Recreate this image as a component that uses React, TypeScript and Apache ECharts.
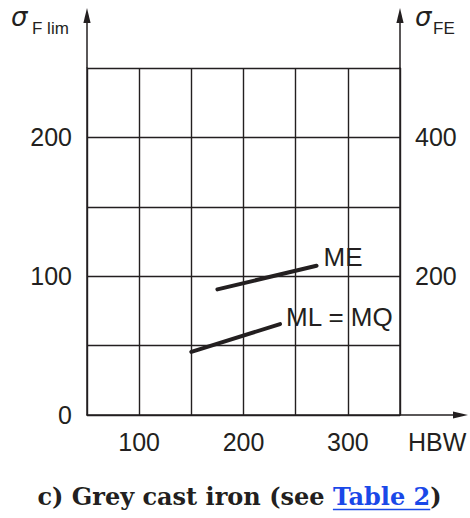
import React, { useEffect, useRef } from "react";
import * as echarts from "echarts";

// Hardness axis (HBW) and stress axes
const hbwTicks = [50, 100, 150, 200, 250, 300, 350];
const hbwLabels = [100, 200, 300];
const sigmaFlimLabels = [0, 100, 200];
const sigmaFELabels = [200, 400];

// Material quality lines: [HBW, σF lim]
const seriesNames = ["ME", "ML = MQ"];
const meLine = [
  [175, 90.5],
  [270, 107.5],
];
const mlMqLine = [
  [150, 45.5],
  [235, 65.5],
];

const W = 470;
const H = 518;
const GRID = { left: 87, top: 68, right: 70, bottom: 103 };
const INK = "#231f20";
const SANS = '"Liberation Sans", Arial, sans-serif';
const SERIF = '"DejaVu Serif", serif';
const LINK = "#1a48e8";
const CAP_SIZE = 24;

function measure(font: string, text: string): number {
  const c = document.createElement("canvas");
  const ctx = c.getContext("2d")!;
  ctx.font = font;
  return ctx.measureText(text).width;
}

export default function App() {
  const ref = useRef<HTMLDivElement>(null);

  useEffect(() => {
    if (!ref.current) return;
    const chart = echarts.init(ref.current, undefined, { renderer: "svg" });

    const gx0 = GRID.left;
    const gx1 = W - GRID.right;
    const gy0 = GRID.top;
    const gy1 = H - GRID.bottom;

    // axis extensions with arrow heads
    const arrowTopY = 8;
    const arrowRightX = 468;
    const aLen = 15;
    const aHalf = 3.6;
    const axisExt = (x: number) => [
      {
        type: "line",
        shape: { x1: x, y1: gy0, x2: x, y2: arrowTopY + aLen - 1 },
        style: { stroke: INK, lineWidth: 1.5 },
      },
      {
        type: "polygon",
        shape: {
          points: [
            [x, arrowTopY],
            [x - aHalf, arrowTopY + aLen],
            [x + aHalf, arrowTopY + aLen],
          ],
        },
        style: { fill: INK },
      },
    ];

    // caption
    const capFont = `bold ${CAP_SIZE}px ${SERIF}`;
    const capA = "c) Grey cast iron (see ";
    const capB = "Table 2";
    const capC = ")";
    const wA = measure(capFont, capA);
    const wB = measure(capFont, capB);
    const wC = measure(capFont, capC);
    const capX = (42 + 437) / 2 - (wA + wB + wC) / 2;
    const capBase = 508;
    const capText = (text: string, x: number, fill: string) => ({
      type: "text",
      x,
      y: capBase,
      style: {
        text,
        fill,
        fontSize: CAP_SIZE,
        fontWeight: "bold",
        fontFamily: SERIF,
        align: "left",
        verticalAlign: "bottom",
        textAlign: "left",
        textVerticalAlign: "bottom",
      },
    });

    const txt = (
      text: string,
      x: number,
      y: number,
      size: number,
      extra: Record<string, unknown> = {}
    ) => ({
      type: "text",
      x,
      y,
      style: {
        text,
        fill: INK,
        fontSize: size,
        fontFamily: SANS,
        align: "left",
        verticalAlign: "middle",
        textAlign: "left",
        textVerticalAlign: "middle",
        ...extra,
      },
    });

    const lineStyle = { color: INK, width: 1.4 };

    chart.setOption({
      animation: false,
      grid: {
        left: GRID.left,
        top: GRID.top,
        right: GRID.right,
        bottom: GRID.bottom,
        containLabel: false,
      },
      xAxis: {
        type: "value",
        min: hbwTicks[0],
        max: hbwTicks[hbwTicks.length - 1],
        interval: 50,
        axisLine: { show: true, lineStyle: { color: INK, width: 1.5 } },
        axisTick: { show: false },
        splitLine: { show: true, lineStyle },
        axisLabel: {
          margin: 14,
          fontSize: 25,
          color: INK,
          fontFamily: SANS,
          formatter: (v: number) => (hbwLabels.includes(v) ? String(v) : ""),
        },
      },
      yAxis: [
        {
          type: "value",
          min: 0,
          max: 250,
          interval: 50,
          position: "left",
          axisLine: { show: true, lineStyle: { color: INK, width: 1.5 } },
          axisTick: { show: false },
          splitLine: { show: true, lineStyle },
          axisLabel: {
            margin: 15,
            fontSize: 25,
            color: INK,
            fontFamily: SANS,
            formatter: (v: number) =>
              sigmaFlimLabels.includes(v) ? String(v) : "",
          },
        },
        {
          type: "value",
          min: 0,
          max: 500,
          interval: 100,
          position: "right",
          axisLine: { show: true, lineStyle: { color: INK, width: 1.5 } },
          axisTick: { show: false },
          splitLine: { show: false },
          axisLabel: {
            margin: 15,
            fontSize: 25,
            color: INK,
            fontFamily: SANS,
            formatter: (v: number) =>
              sigmaFELabels.includes(v) ? String(v) : "",
          },
        },
      ],
      series: [meLine, mlMqLine].map((data, i) => ({
        name: seriesNames[i],
        type: "line",
        data,
        showSymbol: false,
        symbol: "none",
        silent: true,
        lineStyle: { color: INK, width: 4, cap: "round" },
        endLabel: {
          show: true,
          formatter: seriesNames[i],
          fontSize: 26,
          color: INK,
          fontFamily: SANS,
          distance: 6,
          offset: i === 0 ? [1, -9] : [0, -7],
        },
      })),
      graphic: [
        ...axisExt(gx0),
        ...axisExt(gx1),
        {
          type: "line",
          shape: { x1: gx1, y1: gy1, x2: arrowRightX - aLen + 1, y2: gy1 },
          style: { stroke: INK, lineWidth: 1.5 },
        },
        {
          type: "polygon",
          shape: {
            points: [
              [arrowRightX, gy1],
              [arrowRightX - aLen, gy1 - aHalf],
              [arrowRightX - aLen, gy1 + aHalf],
            ],
          },
          style: { fill: INK },
        },
        txt("σ", 11, 17, 26, { fontStyle: "italic", fontFamily: '"DejaVu Sans", sans-serif' }),
        txt("F lim", 32, 28, 17),
        txt("σ", 415, 17, 26, { fontStyle: "italic", fontFamily: '"DejaVu Sans", sans-serif' }),
        txt("FE", 433, 28, 17),
        txt("HBW", 408, 442, 25),
        capText(capA, capX, INK),
        capText(capB, capX + wA, LINK),
        capText(capC, capX + wA + wB, INK),
        {
          type: "line",
          shape: {
            x1: capX + wA,
            y1: capBase + 1.5,
            x2: capX + wA + wB,
            y2: capBase + 1.5,
          },
          style: { stroke: LINK, lineWidth: 1.5 },
        },
      ],
    });

    return () => chart.dispose();
  }, []);

  return (
    <div
      ref={ref}
      style={{ position: "fixed", left: 0, top: 0, width: W, height: H, background: "#fff" }}
    />
  );
}
